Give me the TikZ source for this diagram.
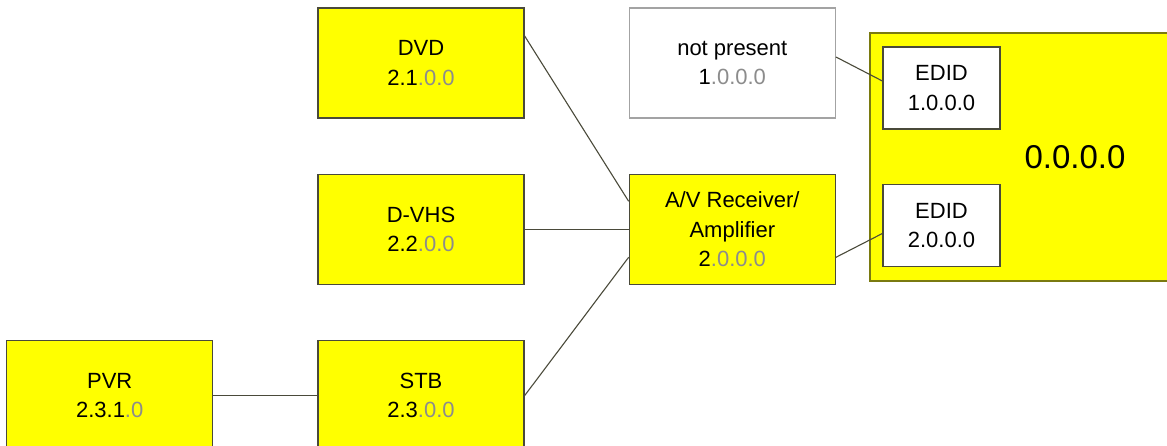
\documentclass[tikz,border=0pt]{standalone}
\usepackage{fontspec}
\setmainfont{Liberation Sans}
\usepackage{tikz}
\usetikzlibrary{shapes,positioning,calc}
\definecolor{addrgray}{HTML}{8C8C8C}
\definecolor{devyellow}{HTML}{FFFF00}
\definecolor{devedge}{HTML}{4A4A3A}
\definecolor{tvedge}{HTML}{7A7A10}
\newcommand{\lo}[1]{\textcolor{addrgray}{#1}}
\tikzset{
dev/.style = {draw=devedge, fill=devyellow, rectangle, align=center, line width=1.3pt, minimum width=206pt, minimum height=110pt, font=\fontsize{22}{29.5}\selectfont},
absent/.style = {dev, draw=addrgray!80, fill=white},
sink/.style = {draw=tvedge, fill=devyellow, rectangle, line width=1.3pt, minimum width=410pt, minimum height=248pt, font=\fontsize{33}{36}\selectfont},
edid/.style = {dev, fill=white, minimum width=117pt, minimum height=82pt},
wire/.style = {draw=devedge, line width=1.1pt}
}
\begin{document}
\begin{tikzpicture}
    \useasboundingbox (0,0) rectangle (1167pt,446pt);
    \node[dev] (dvd) at (421pt,383pt) {DVD\\2.1\lo{.0.0}};
    \node[dev, below=55pt of dvd] (vhs) {D-VHS\\2.2\lo{.0.0}};
    \node[dev, below=55pt of vhs] (stb) {STB\\2.3\lo{.0.0}};
    \node[dev, left=104pt of stb] (pvr) {PVR\\2.3.1\lo{.0}};
    \node[absent, right=104pt of dvd] (np) {not present\\1\lo{.0.0.0}};
    \node[dev, right=104pt of vhs] (av) {A/V Receiver/\\Amplifier\\2\lo{.0.0.0}};
    \node[sink] (tv) at (1075pt,289pt) {0.0.0.0};
    \node[edid] (edid1) at (941.5pt,358pt) {EDID\\1.0.0.0};
    \node[edid] (edid2) at (941.5pt,220.5pt) {EDID\\2.0.0.0};
    \draw[wire] ([yshift=27pt]dvd.east) -- ([yshift=28pt]av.west);
    \draw[wire] (vhs) -- (av);
    \draw[wire] (stb.east) -- ([yshift=-28pt]av.west);
    \draw[wire] (pvr) -- (stb);
    \draw[wire] ([yshift=6pt]np.east) -- ([yshift=7pt]edid1.west);
    \draw[wire] ([yshift=-28pt]av.east) -- ([yshift=-8pt]edid2.west);
\end{tikzpicture}
\end{document}
